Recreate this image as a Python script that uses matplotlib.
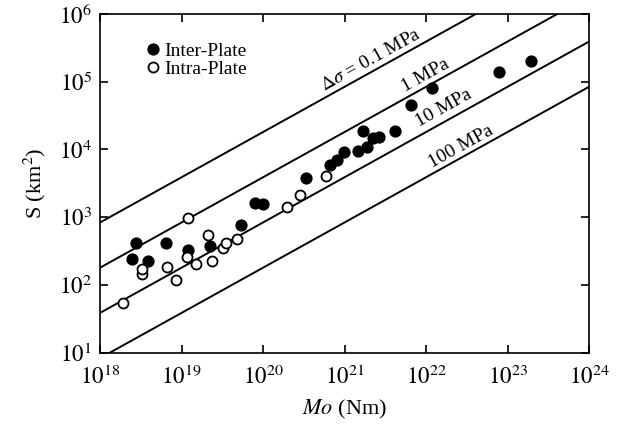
import numpy as np
import matplotlib
matplotlib.use('Agg')
from matplotlib import pyplot as plt

plt.rcParams['font.family'] = ['Liberation Serif', 'DejaVu Serif']
plt.rcParams['mathtext.fontset'] = 'stix'

# inter-plate events (filled)
inter_mo = [2.46e18, 2.75e18, 3.9e18, 6.5e18, 1.2e19, 2.24e19, 5.4e19, 7.9e19, 1.0e20,
            3.4e20, 6.6e20, 8.1e20, 9.8e20, 1.47e21, 1.9e21, 1.67e21, 2.2e21, 2.65e21,
            4.2e21, 6.6e21, 1.18e22, 7.9e22, 1.95e23]
inter_s = [245, 415, 230, 415, 330, 380, 770, 1600, 1550,
           3800, 5900, 7000, 9200, 9500, 11000, 19000, 15000, 15500,
           19000, 46000, 81000, 138000, 200000]

# intra-plate events (open)
intra_mo = [1.9e18, 3.25e18, 3.3e18, 6.6e18, 8.5e18, 1.17e19, 1.2e19, 1.5e19, 2.1e19,
            2.35e19, 3.2e19, 3.5e19, 4.8e19, 1.95e20, 2.8e20, 5.9e20]
intra_s = [55, 147, 173, 185, 119, 260, 980, 205, 550,
           230, 355, 415, 480, 1400, 2100, 4000]

# constant stress drop lines, S at Mo = 1e18 and 1e24
line_mo = [1e18, 1e24]
line_s = {
    '0.1': [840, 8.4e6],
    '1': [181, 1.81e6],
    '10': [39, 3.9e5],
    '100': [8.4, 8.4e4],
}

x_exp = [18, 19, 20, 21, 22, 23, 24]
y_exp = [1, 2, 3, 4, 5, 6]

fig = plt.figure(figsize=(6.26, 4.32), dpi=100)
ax = fig.add_axes([0.160, 0.183, 0.781, 0.785])

for key in line_s:
    ax.plot(line_mo, line_s[key], color='black', lw=1.4)

ax.plot(inter_mo, inter_s, 'o', color='black', ms=7.8, label='Inter-Plate')
ax.plot(intra_mo, intra_s, 'o', mfc='white', mec='black', mew=1.3, ms=7.2,
        label='Intra-Plate')

ax.set_xscale('log')
ax.set_yscale('log')
ax.set_xlim(1e18, 1e24)
ax.set_ylim(1e1, 1e6)
ax.minorticks_off()
ax.set_xticks([10.0 ** e for e in x_exp])
ax.set_xticklabels([r'$10^{%d}$' % e for e in x_exp])
ax.set_yticks([10.0 ** e for e in y_exp])
ax.set_yticklabels([r'$10^{%d}$' % e for e in y_exp])
ax.tick_params(which='major', direction='in', length=6, width=1.2,
               top=True, right=True, labelsize=16.5)
ax.tick_params(axis='x', pad=9)
ax.tick_params(axis='y', pad=6)
for sp in ax.spines.values():
    sp.set_linewidth(1.2)

ax.set_xlabel(r'$\mathit{Mo}$ (Nm)', fontsize=16, labelpad=7)
ax.set_ylabel(r'S (km$^2$)', fontsize=16, labelpad=8)

rot = 29
ax.text(2.1e21, 2.1e5, r'$\mathit{\Delta\sigma}$ = 0.1 MPa', rotation=rot,
        ha='center', va='center', rotation_mode='anchor', fontsize=14)
ax.text(9.8e21, 1.23e5, '1 MPa', rotation=rot,
        ha='center', va='center', rotation_mode='anchor', fontsize=14)
ax.text(1.66e22, 4.1e4, '10 MPa', rotation=rot,
        ha='center', va='center', rotation_mode='anchor', fontsize=14)
ax.text(2.7e22, 1.1e4, '100 MPa', rotation=rot,
        ha='center', va='center', rotation_mode='anchor', fontsize=14)

ax.legend(loc='upper left', bbox_to_anchor=(0.08, 0.94), frameon=False,
          fontsize=14, handlelength=0.6, handletextpad=0.3, labelspacing=0.05,
          borderaxespad=0.0)

fig.savefig('out.png', dpi=100)
